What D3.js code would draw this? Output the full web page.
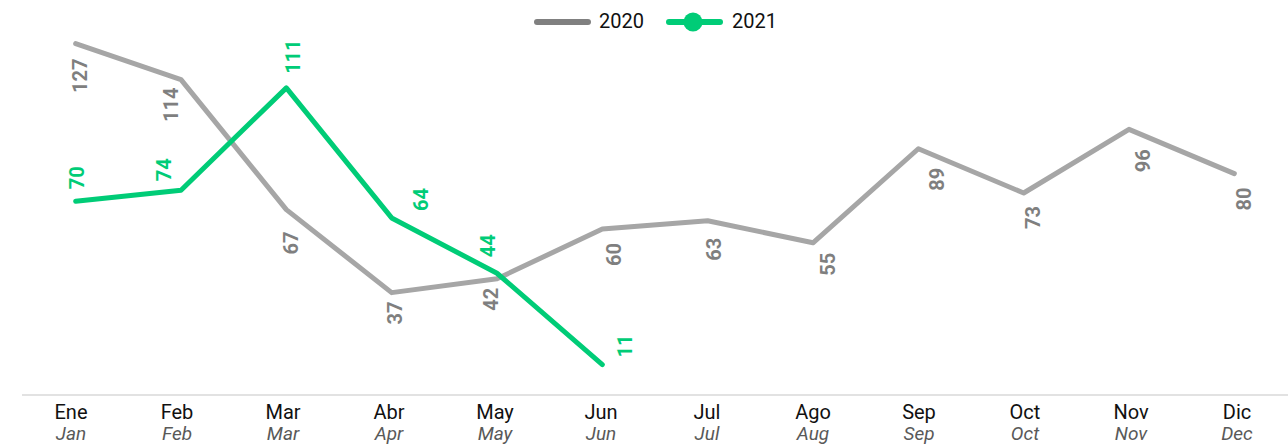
<!DOCTYPE html>
<html>
<head>
<meta charset="utf-8">
<script src="https://cdn.jsdelivr.net/npm/d3@7"></script>
<style>
  body { margin: 0; background: #fff; }
  text { font-family: Roboto, "Noto Sans", sans-serif; }
</style>
</head>
<body>
<svg id="chart" width="1288" height="444"></svg>
<script>
var monthsEs = ["Ene", "Feb", "Mar", "Abr", "May", "Jun", "Jul", "Ago", "Sep", "Oct", "Nov", "Dic"];
var monthsEn = ["Jan", "Feb", "Mar", "Apr", "May", "Jun", "Jul", "Aug", "Sep", "Oct", "Nov", "Dec"];
var values2020 = [127, 114, 67, 37, 42, 60, 63, 55, 89, 73, 96, 80];
var values2021 = [70, 74, 111, 64, 44, 11];

// label nudges [dx, gap] so the rotated labels clear the lines
var nudge2020 = [[4, 15], [-10, 8], [5, 22], [3, 9], [-6, 9], [12, 14], [6, 17], [15, 10], [19, 19], [9, 13], [14, 20], [10, 14]];
var nudge2021 = [[1, 12], [-17, 9], [7, 14], [29, 7], [-9, 16], [23, 7]];

var gray = "#a6a6a6", grayText = "#7f7f7f", green = "#00cc77";

var svg = d3.select("#chart");

var x = d3.scaleBand()
    .domain(monthsEs)
    .range([23, 1287]);

// category labels sit on a slightly wider band
var xLabel = d3.scaleBand()
    .domain(monthsEs)
    .range([18, 1290]);

var y = d3.scaleLinear()
    .domain([0, 127])
    .range([395, 43.6]);

var cx = function (i) { return x(monthsEs[i]) + x.bandwidth() / 2; };
var lx = function (i) { return xLabel(monthsEs[i]) + xLabel.bandwidth() / 2; };

// axis line
svg.append("line")
    .attr("x1", 22).attr("x2", 1288)
    .attr("y1", 395).attr("y2", 395)
    .attr("stroke", "#d9d9d9").attr("stroke-width", 1.5);

// month labels
var ticks = svg.append("g");
ticks.selectAll("text.es")
    .data(monthsEs)
    .enter().append("text")
    .attr("class", "es")
    .attr("x", function (d, i) { return lx(i); })
    .attr("y", 419)
    .attr("text-anchor", "middle")
    .attr("font-size", 20)
    .attr("fill", "#111")
    .text(function (d) { return d; });
ticks.selectAll("text.en")
    .data(monthsEn)
    .enter().append("text")
    .attr("class", "en")
    .attr("x", function (d, i) { return lx(i); })
    .attr("y", 440)
    .attr("text-anchor", "middle")
    .attr("font-size", 19)
    .attr("font-style", "italic")
    .attr("fill", "#595959")
    .text(function (d) { return d; });

var line = d3.line()
    .x(function (d, i) { return cx(i); })
    .y(function (d) { return y(d); });

svg.append("path")
    .datum(values2020)
    .attr("d", line)
    .attr("fill", "none")
    .attr("stroke", gray)
    .attr("stroke-width", 5)
    .attr("stroke-linejoin", "round")
    .attr("stroke-linecap", "round");

svg.append("path")
    .datum(values2021)
    .attr("d", line)
    .attr("fill", "none")
    .attr("stroke", green)
    .attr("stroke-width", 5)
    .attr("stroke-linejoin", "round")
    .attr("stroke-linecap", "round");

// data labels 2020 (below points)
svg.append("g").selectAll("text")
    .data(values2020)
    .enter().append("text")
    .attr("transform", function (d, i) {
        return "translate(" + (cx(i) + nudge2020[i][0]) + "," + (y(d) + nudge2020[i][1]) + ") rotate(-90)";
    })
    .attr("text-anchor", "end")
    .attr("dy", "0.35em")
    .attr("font-size", 20)
    .attr("font-weight", "bold")
    .attr("fill", grayText)
    .text(function (d) { return d; });

// data labels 2021 (above points)
svg.append("g").selectAll("text")
    .data(values2021)
    .enter().append("text")
    .attr("transform", function (d, i) {
        return "translate(" + (cx(i) + nudge2021[i][0]) + "," + (y(d) - nudge2021[i][1]) + ") rotate(-90)";
    })
    .attr("text-anchor", "start")
    .attr("dy", "0.35em")
    .attr("font-size", 20)
    .attr("font-weight", "bold")
    .attr("fill", green)
    .text(function (d) { return d; });

// legend
var legend = svg.append("g");
legend.append("line")
    .attr("x1", 537).attr("x2", 588).attr("y1", 22).attr("y2", 22)
    .attr("stroke", "#808080").attr("stroke-width", 6).attr("stroke-linecap", "round");
legend.append("text")
    .attr("x", 599).attr("y", 28)
    .attr("font-size", 20).attr("fill", "#111")
    .text("2020");
legend.append("line")
    .attr("x1", 669).attr("x2", 720).attr("y1", 22).attr("y2", 22)
    .attr("stroke", green).attr("stroke-width", 6).attr("stroke-linecap", "round");
legend.append("circle")
    .attr("cx", 693).attr("cy", 22).attr("r", 9.5)
    .attr("fill", green);
legend.append("text")
    .attr("x", 732).attr("y", 28)
    .attr("font-size", 20).attr("fill", "#111")
    .text("2021");
</script>
</body>
</html>
